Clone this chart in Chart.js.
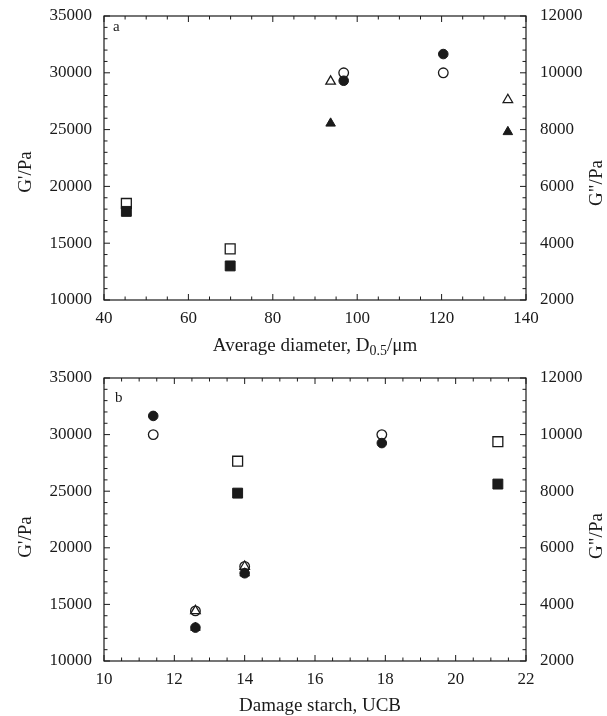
<!DOCTYPE html>
<html>
<head>
<meta charset="utf-8">
<script src="https://cdn.jsdelivr.net/npm/chart.js@4.4.1/dist/chart.umd.min.js"></script>
<style>
  html, body { margin: 0; padding: 0; background: #fff; }
  body { width: 607px; height: 716px; position: relative; overflow: hidden; }
  canvas { position: absolute; left: 0; }
  #cA { top: 0; }
  #cB { top: 362px; }
</style>
</head>
<body>
<canvas id="cA" width="607" height="358"></canvas>
<canvas id="cB" width="607" height="354"></canvas>
<script>
// ---------- Panel a: average diameter D0.5 (µm) ----------
const aSquareX = [45.3, 69.9];
const aSquareGp = [17800, 13000];   // G' (left axis, filled)
const aSquareGpp = [5400, 3800];    // G'' (right axis, open)
const aTriX = [93.7, 135.7];
const aTriGp = [25550, 24800];
const aTriGpp = [9700, 9050];
const aCircX = [96.8, 120.4];
const aCircGp = [29300, 31650];
const aCircGpp = [10000, 10000];

// ---------- Panel b: damage starch (UCB) ----------
const bCircX = [11.4, 12.6, 14.0, 17.9];
const bCircGp = [31650, 12950, 17750, 29250];
const bCircGpp = [10000, 3770, 5340, 10000];
const bTriX = [12.6, 14.0];
const bTriGp = [12950, 17750];
const bTriGpp = [3770, 5340];
const bSquareX = [13.8, 21.2];
const bSquareGp = [24830, 25630];
const bSquareGpp = [9060, 9750];

// ---------- Axis ranges / ticks ----------
const leftAxis = { min: 10000, max: 35000, step: 5000, minor: 1000 };
const rightAxis = { min: 2000, max: 12000, step: 2000, minor: 400 };
const aXAxis = { min: 40, max: 140, step: 20, minor: 5 };
const bXAxis = { min: 10, max: 22, step: 2, minor: 0.5 };

const FONT = "'Liberation Serif', 'Times New Roman', serif";
const INK = '#1a1a1a';
const TICK_SIZE = 17;

function pts(xs, ys) { return xs.map((x, i) => ({ x: x, y: ys[i] })); }

function ds(data, style, filled, axis, radius) {
  return {
    data: data,
    yAxisID: axis,
    pointStyle: style,
    pointRadius: radius,
    pointHoverRadius: radius,
    pointBackgroundColor: filled ? INK : '#ffffff',
    pointBorderColor: INK,
    pointBorderWidth: filled ? 1 : 1.3,
    showLine: false
  };
}

function noPad(s) { s.paddingTop = 0; s.paddingBottom = 0; s.paddingLeft = 0; s.paddingRight = 0; }

const framePlugin = {
  id: 'frame',
  afterDraw(chart, args, o) {
    const { ctx, chartArea: a, scales } = chart;
    ctx.save();
    ctx.strokeStyle = INK;
    ctx.lineWidth = 1.2;
    ctx.strokeRect(a.left, a.top, a.right - a.left, a.bottom - a.top);
    ctx.lineWidth = 1;
    function marks(scale, def, draw) {
      const n = Math.round((def.max - def.min) / def.minor);
      const per = Math.round(def.step / def.minor);
      for (let i = 0; i <= n; i++) {
        const v = def.min + i * def.minor;
        const p = scale.getPixelForValue(v);
        const len = (i % per === 0) ? 6 : 3.5;
        draw(p, len);
      }
    }
    ctx.beginPath();
    marks(scales.x, o.xDef, (p, len) => {
      ctx.moveTo(p, a.bottom); ctx.lineTo(p, a.bottom - len);
      ctx.moveTo(p, a.top); ctx.lineTo(p, a.top + len);
    });
    marks(scales.y, leftAxis, (p, len) => {
      ctx.moveTo(a.left, p); ctx.lineTo(a.left + len, p);
    });
    marks(scales.y2, rightAxis, (p, len) => {
      ctx.moveTo(a.right, p); ctx.lineTo(a.right - len, p);
    });
    ctx.stroke();

    // panel letter
    ctx.fillStyle = INK;
    ctx.font = '15px ' + FONT;
    ctx.textAlign = 'left';
    ctx.textBaseline = 'middle';
    ctx.fillText(o.letter, a.left + o.letterDx, a.top + o.letterDy);

    // y titles (both read bottom-to-top)
    ctx.font = '19px ' + FONT;
    ctx.textAlign = 'center';
    ctx.save();
    ctx.translate(o.leftTitleX, o.leftTitleY);
    ctx.rotate(-Math.PI / 2);
    ctx.fillText("G'/Pa", 0, 0);
    ctx.restore();
    ctx.save();
    ctx.translate(o.rightTitleX, o.rightTitleY);
    ctx.rotate(-Math.PI / 2);
    ctx.fillText('G"/Pa', 0, 0);
    ctx.restore();

    // x title with optional subscript
    const parts = o.xTitle;
    let total = 0;
    const widths = parts.map(p => {
      ctx.font = (p.sub ? '14px ' : '19px ') + FONT;
      const w = ctx.measureText(p.t).width;
      total += w;
      return w;
    });
    let x = o.xTitleX - total / 2;
    ctx.textAlign = 'left';
    parts.forEach((p, i) => {
      ctx.font = (p.sub ? '14px ' : '19px ') + FONT;
      ctx.fillText(p.t, x, o.xTitleY + (p.sub ? 5 : 0));
      x += widths[i];
    });
    ctx.restore();
  }
};

function makeChart(id, datasets, xDef, xAxisHeight, plug) {
  return new Chart(document.getElementById(id), {
    type: 'scatter',
    data: { datasets: datasets },
    options: {
      responsive: false,
      animation: false,
      devicePixelRatio: 1,
      layout: { padding: { top: 16, left: 0, right: 0, bottom: 0 } },
      plugins: {
        legend: { display: false },
        tooltip: { enabled: false },
        frame: Object.assign({ xDef: xDef }, plug)
      },
      scales: {
        x: {
          type: 'linear',
          min: xDef.min, max: xDef.max,
          grid: { display: false, tickLength: 0 },
          border: { display: false },
          ticks: { stepSize: xDef.step, color: INK, font: { family: FONT, size: TICK_SIZE }, padding: 8, maxRotation: 0 },
          afterFit(s) { s.height = xAxisHeight; noPad(s); }
        },
        y: {
          type: 'linear', position: 'left',
          min: leftAxis.min, max: leftAxis.max,
          grid: { display: false, tickLength: 0 },
          border: { display: false },
          ticks: { stepSize: leftAxis.step, color: INK, font: { family: FONT, size: TICK_SIZE }, padding: 12,
                   callback: v => String(v) },
          afterFit(s) { s.width = 104; noPad(s); }
        },
        y2: {
          type: 'linear', position: 'right',
          min: rightAxis.min, max: rightAxis.max,
          grid: { display: false, tickLength: 0 },
          border: { display: false },
          ticks: { stepSize: rightAxis.step, color: INK, font: { family: FONT, size: TICK_SIZE }, padding: 14,
                   callback: v => String(v) },
          afterFit(s) { s.width = 81; noPad(s); }
        }
      }
    },
    plugins: [framePlugin]
  });
}

// filled (G') datasets first so they are drawn on top
makeChart('cA', [
  ds(pts(aSquareX, aSquareGp), 'rect', true, 'y', 7),
  ds(pts(aTriX, aTriGp), 'triangle', true, 'y', 5.5),
  ds(pts(aCircX, aCircGp), 'circle', true, 'y', 4.8),
  ds(pts(aSquareX, aSquareGpp), 'rect', false, 'y2', 7),
  ds(pts(aTriX, aTriGpp), 'triangle', false, 'y2', 5.5),
  ds(pts(aCircX, aCircGpp), 'circle', false, 'y2', 4.8)
], aXAxis, 58, {
  letter: 'a', letterDx: 9, letterDy: 11,
  leftTitleX: 26, leftTitleY: 172,
  rightTitleX: 597, rightTitleY: 183,
  xTitle: [{ t: 'Average diameter, D' }, { t: '0.5', sub: true }, { t: '/\u03bcm' }],
  xTitleX: 315, xTitleY: 346
});

makeChart('cB', [
  ds(pts(bCircX, bCircGp), 'circle', true, 'y', 4.8),
  ds(pts(bTriX, bTriGp), 'triangle', true, 'y', 5.5),
  ds(pts(bSquareX, bSquareGp), 'rect', true, 'y', 7),
  ds(pts(bTriX, bTriGpp), 'triangle', false, 'y2', 5.5),
  ds(pts(bCircX, bCircGpp), 'circle', false, 'y2', 4.8),
  ds(pts(bSquareX, bSquareGpp), 'rect', false, 'y2', 7)
], bXAxis, 55, {
  letter: 'b', letterDx: 11, letterDy: 20,
  leftTitleX: 26, leftTitleY: 537 - 362,
  rightTitleX: 597, rightTitleY: 536 - 362,
  xTitle: [{ t: 'Damage starch, UCB' }],
  xTitleX: 320, xTitleY: 706 - 362
});
</script>
</body>
</html>
